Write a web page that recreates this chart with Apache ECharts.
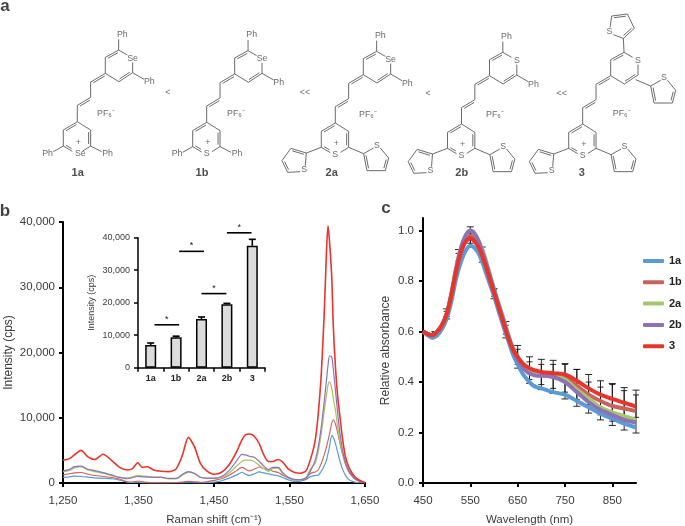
<!DOCTYPE html>
<html>
<head>
<meta charset="utf-8">
<style>html,body{margin:0;padding:0;background:#fff}#chart{width:685px;height:526px}</style>
<script src="https://cdn.jsdelivr.net/npm/echarts@6/dist/echarts.min.js"></script>
</head>
<body>
<div id="chart"></div>
<script>
// ---------- Panel b: Raman spectra ----------
const ramanShift = [1250,1258,1265,1274,1283,1292,1303,1315,1325,1335,1342,1349,1355,1362,1370,1380,1390,1400,1408,1416,1424,1432,1440,1450,1460,1470,1480,1487,1492,1497,1503,1510,1516,1522,1528,1535,1541,1548,1556,1565,1572,1578,1584,1588,1592,1596,1599,1601,1603,1606,1608,1611,1614,1617,1620,1624,1628,1633,1638,1644,1650];
const raman1a = [850,950,1050,1000,900,800,720,650,450,120,80,120,60,30,10,10,10,20,30,40,30,20,50,120,350,750,1250,1650,1350,1150,1400,1700,1550,1400,1250,1100,850,500,250,300,550,1000,1150,1200,1800,2600,3500,4500,5600,7300,7000,6000,4600,3300,2200,1200,600,250,100,40,20];
const raman1b = [1250,1400,1550,1600,1350,1150,1000,850,600,200,150,300,200,100,50,30,60,80,150,250,200,120,200,400,650,1200,1900,2400,2100,1850,2100,2450,2200,2000,1800,1600,1200,800,450,500,700,1500,1700,2000,3000,4300,5500,6500,7500,9200,9700,9000,7600,6000,4500,2900,1800,1000,500,200,50];
const raman2a = [1700,1900,2300,2500,2000,1750,1500,1150,850,800,950,1150,1100,1000,900,850,650,650,1200,1650,1450,900,750,700,850,1500,2600,3300,3500,3500,3300,2700,2200,1800,2200,2300,1400,800,500,550,800,2200,3000,4800,7500,11000,13500,15000,15500,14500,13000,11000,8500,6300,4700,3200,2100,1300,700,300,50];
const raman2b = [1850,2050,2500,2600,2100,1900,1600,1200,850,650,800,1000,950,900,850,900,700,700,1300,1750,1500,850,750,750,1000,1900,3400,4400,4300,4100,3950,3300,2600,2050,2400,2400,1600,900,550,500,800,1900,3500,5500,8500,12500,15800,18000,19500,19300,17500,14000,10500,7500,5200,3200,2000,1100,600,250,50];
const raman3  = [3500,3700,4300,5000,4000,3600,4400,3400,2400,2000,2200,3100,2400,2500,2000,1800,1750,2200,4200,7000,5600,3000,1900,1350,1650,2800,4800,6600,7400,7500,7200,6000,4300,3300,3300,3600,3200,2200,1650,1500,1900,3700,6500,10500,16500,26000,35500,39400,37000,31500,24000,17500,13000,10000,7000,4100,2600,1500,800,350,50];
const ramanTicks = [1250,1350,1450,1550,1650];

// ---------- Panel b inset: peak intensity bars ----------
const compoundNames = ['1a','1b','2a','2b','3'];
const peakIntensity = [7000,9400,15000,19500,37500];
const peakUpper = [7600,9700,15600,19800,39500];
// [from, to, level] in category-band units on the hidden inset scale
const significance = [[0.65,1.62,13200],[1.62,2.6,35800],[2.5,3.48,22800],[3.5,4.47,41500]];

// ---------- Panel c: absorbance ----------
const wavelength = [450,460,470,480,490,500,510,520,530,540,550,560,570,580,590,600,610,620,630,640,650,660,670,680,690,700,725,750,775,800,825,850,875,900];
const abs1a = [.60,.585,.575,.585,.61,.65,.72,.81,.875,.92,.94,.93,.90,.85,.795,.74,.68,.62,.565,.51,.47,.435,.41,.39,.38,.375,.36,.35,.325,.30,.275,.255,.235,.22];
const abs1b = [.60,.59,.585,.60,.625,.665,.745,.84,.915,.96,.98,.965,.93,.885,.825,.76,.70,.64,.58,.53,.495,.47,.455,.445,.44,.435,.425,.415,.385,.35,.325,.305,.295,.285];
const abs2a = [.60,.59,.585,.60,.625,.67,.75,.85,.93,.98,1.0,.985,.95,.90,.835,.77,.71,.65,.59,.535,.495,.465,.445,.435,.43,.43,.425,.41,.37,.335,.30,.28,.265,.25];
const abs2b = [.60,.59,.585,.60,.625,.67,.75,.85,.93,.98,1.0,.985,.945,.89,.83,.765,.705,.645,.585,.53,.49,.46,.44,.43,.425,.425,.42,.40,.36,.32,.29,.27,.25,.24];
const abs3  = [.60,.59,.585,.60,.625,.67,.745,.84,.915,.955,.97,.955,.925,.875,.815,.755,.695,.635,.575,.53,.50,.475,.46,.45,.445,.44,.435,.43,.405,.375,.35,.333,.318,.303];
const errWavelength = [475,500,525,550,575,600,625,650,675,700,725,750,775,800,825,850,875,900];
const errOuterHigh = [.60,.69,.925,1.015,.935,.77,.64,.545,.50,.49,.486,.473,.45,.43,.405,.394,.378,.368];
const errOuterLow  = [.58,.65,.865,.935,.875,.73,.575,.455,.395,.37,.355,.333,.304,.277,.25,.228,.21,.198];
const errInnerHigh = [.595,.68,.91,.99,.92,.765,.625,.53,.48,.47,.47,.47,.45,.40,.38,.39,.366,.349];
const errInnerLow  = [.585,.66,.88,.95,.89,.74,.59,.47,.41,.39,.375,.36,.33,.31,.27,.245,.235,.26];
const wavelengthTicks = [450,550,650,750,850];
const absorbanceTicks = [0,0.2,0.4,0.6,0.8,1.0];

// ---------- Panel a: structures, in drawing units relative to each molecule's anchor ----------
const coreSingle = [[0,0,40,25],[40,73,16,88],[-42,25,-42,73],[0,0,0,-49],[40,-73,40,-119],[84,-145,84,-193],[124,-215,150,-200],[166,-178,166,-147],[125,-120,84,-145]];
const coreDouble = [[40,25,40,73,0,48],[-42,73,-15,89,0,48],[0,0,-42,25,0,48],[0,-49,40,-73,40,-45],[40,-119,84,-145,84,-115],[84,-193,124,-215,125,-168],[166,-147,125,-120,125,-168]];
const phArmsBottom = [[-42,73,-72,90],[40,73,73,90]];
const phArmsTop = [[124,-215,124,-247],[166,-147,200,-127]];
const thienylLeftSingle = [[-42,73,-87,90],[-133,76,-160,113],[-143,148,-105,146],[-90,128,-87,90]];
const thienylLeftDouble = [[-87,90,-133,76,-120,115],[-160,113,-143,148,-120,115]];
const thienylRightSingle = [[40,73,85,92],[85,92,115,75],[135,75,160,105],[150,143,95,143]];
const thienylRightDouble = [[160,105,150,143,122,110],[95,143,85,92,122,110]];
const thienylShiftUp = [119,-206];
const thienylTopSingle = [[124,-215,122,-257],[155,-287,134,-330],[87,-324,82,-290],[92,-268,122,-257]];
const thienylTopDouble = [[122,-257,155,-287,115,-295],[134,-330,87,-324,115,-295]];
const moleculeAnchors = [[77.3,121.7],[206.7,122.3],[335.3,123],[461.5,124],[582.7,124]];
const bottomHetero = ['Se','S','S','S','S'];
const topHetero = ['Se','Se','Se','S','S'];
const bottomSubstituent = ['Ph','Ph','Th','Th','Th'];
const topSubstituent = ['Ph','Ph','Ph','Ph','Th'];
const compoundLabelAt = [[77.7,172.5],[202,172.5],[331.7,172.5],[461.7,172.5],[581.7,173]];
const saltLabelAt = [[106,113.5],[236,114],[368,114.5],[495,114.5],[621.7,114]];
const orderSigns = ['<','<<','<','<<'];
const orderSignAt = [[167.7,93],[305,93],[428,93.5],[561.7,93.5]];
const panelLetters = ['a','b','c'];
const panelLetterAt = [[5,6],[5,211],[386,208]];

const UNIT = 1/3;
const FONT = '"Liberation Sans", Arial, sans-serif';
const TEXT = '#3a3a3a';
const COLORS = {a1:'#5b9bd5', b1:'#c9625c', a2:'#a8c66c', b2:'#8d72b8', t3:'#e8352b'};

function buildStructures(){
  const segs = [], labels = [];
  moleculeAnchors.forEach((A, i) => {
    const addS = (b, s=[0,0]) => segs.push([A[0]+(b[0]+s[0])*UNIT, A[1]+(b[1]+s[1])*UNIT, A[0]+(b[2]+s[0])*UNIT, A[1]+(b[3]+s[1])*UNIT]);
    const addD = (b, s=[0,0]) => {
      addS(b, s);
      let dx=b[2]-b[0], dy=b[3]-b[1], L=Math.hypot(dx,dy), nx=-dy/L, ny=dx/L;
      const mx=(b[0]+b[2])/2, my=(b[1]+b[3])/2;
      if ((b[4]-mx)*nx+(b[5]-my)*ny<0){nx=-nx;ny=-ny;}
      const off=6, ux=dx/L*6, uy=dy/L*6;
      addS([b[0]+nx*off+ux,b[1]+ny*off+uy,b[2]+nx*off-ux,b[3]+ny*off-uy], s);
    };
    const lab = (t,x,y) => labels.push({value:[A[0]+x*UNIT, A[1]+y*UNIT], name:t});
    coreSingle.forEach(b=>addS(b));
    coreDouble.forEach(b=>addD(b));
    lab(bottomHetero[i], bottomHetero[i]==='Se'?9:0, 95);
    lab(topHetero[i], 166, -190);
    lab('+', 3, 62);
    if (bottomSubstituent[i]==='Ph'){
      phArmsBottom.forEach(b=>addS(b));
      lab('Ph',-89,95); lab('Ph',91,95);
    } else {
      thienylLeftSingle.forEach(b=>addS(b));
      thienylLeftDouble.forEach(b=>addD(b));
      thienylRightSingle.forEach(b=>addS(b));
      thienylRightDouble.forEach(b=>addD(b));
      lab('S',-93,140); lab('S',125,67);
    }
    if (topSubstituent[i]==='Ph'){
      phArmsTop.forEach(b=>addS(b));
      lab('Ph',135,-262); lab('Ph',216,-119);
    } else {
      thienylTopSingle.forEach(b=>addS(b));
      thienylTopDouble.forEach(b=>addD(b));
      thienylRightSingle.forEach(b=>addS(b,thienylShiftUp));
      thienylRightDouble.forEach(b=>addD(b,thienylShiftUp));
      lab('S',80,-277); lab('S',125+thienylShiftUp[0],67+thienylShiftUp[1]);
    }
  });
  saltLabelAt.forEach(p=>labels.push({value:p,name:'PF\u2086\u207B'}));
  orderSigns.forEach((t,i)=>labels.push({value:orderSignAt[i],name:t}));
  return {segs,labels};
}
const structures = buildStructures();
const zip = (xs, ys) => xs.map((x,i)=>[x,ys[i]]);
const commaNum = v => Number(v).toLocaleString('en-US');

function textScatter(data, size, weight, color){
  return {type:'scatter', xAxisIndex:0, yAxisIndex:0, data, symbolSize:0, silent:true, z:20,
    label:{show:true, position:'inside', formatter:p=>p.name, fontFamily:FONT, fontSize:size, fontWeight:weight, color}};
}
function errRender(capHalf, width){
  return function(params, api){
    const x=api.value(0), lo=api.coord([x,api.value(1)]), hi=api.coord([x,api.value(2)]);
    const style={stroke:'#111', lineWidth:width};
    const L=(a,b,c,d)=>({type:'line',shape:{x1:a,y1:b,x2:c,y2:d},style});
    return {type:'group',children:[L(lo[0],lo[1],hi[0],hi[1]),L(hi[0]-capHalf,hi[1],hi[0]+capHalf,hi[1]),L(lo[0]-capHalf,lo[1],lo[0]+capHalf,lo[1])]};
  };
}
function axisBase(size, lw){
  return {axisLine:{show:true,onZero:false,lineStyle:{color:'#000',width:lw}},
    axisTick:{show:true,length:4,lineStyle:{color:'#000',width:lw}},
    splitLine:{show:false},
    axisLabel:{fontFamily:FONT,fontSize:size,color:TEXT},
    nameTextStyle:{fontFamily:FONT,fontSize:size,color:TEXT}};
}
const ramanLine = (name,vals,color,w,z)=>({type:'line',name,xAxisIndex:1,yAxisIndex:1,data:zip(ramanShift,vals),showSymbol:false,smooth:0.25,
  lineStyle:{color,width:w},itemStyle:{color},z});
const absLine = (name,vals,color,z)=>({type:'line',name,xAxisIndex:4,yAxisIndex:3,data:zip(wavelength,vals),showSymbol:false,smooth:0.3,
  lineStyle:{color,width:4},itemStyle:{color},z,emphasis:{disabled:true}});

const b1 = axisBase(11.5,2), ins = axisBase(9,1.5), c1 = axisBase(11.5,2);

const option = {
  animation:false, backgroundColor:'#fff',
  legend:{data:compoundNames, orient:'vertical', left:643, top:255, padding:0, itemWidth:21, itemHeight:4, itemGap:9.3, icon:'roundRect',
    selectedMode:false, textStyle:{fontFamily:FONT,fontSize:11,fontWeight:'bold',color:'#222',lineHeight:12}},
  grid:[
    {left:0,right:0,top:0,bottom:0,outerBoundsMode:'none'},
    {left:63,right:320,top:222,bottom:43,outerBoundsMode:'none'},
    {left:138,right:420,top:237.7,bottom:158.3,outerBoundsMode:'none'},
    {left:423,right:49,top:218,bottom:43,outerBoundsMode:'none'}
  ],
  xAxis:[
    {gridIndex:0,type:'value',min:0,max:685,show:false},
    Object.assign({},b1,{gridIndex:1,type:'value',min:1250,max:1650,
      axisLabel:Object.assign({},b1.axisLabel,{customValues:ramanTicks,formatter:commaNum,margin:12}),
      axisTick:Object.assign({},b1.axisTick,{customValues:ramanTicks}),
      name:'Raman shift (cm\u207B\u00B9)',nameLocation:'middle',nameGap:31}),
    Object.assign({},ins,{gridIndex:2,type:'category',data:compoundNames,
      axisLabel:Object.assign({},ins.axisLabel,{fontWeight:'bold',margin:6,color:'#222',interval:0})}),
    {gridIndex:2,type:'value',min:0,max:5,show:false},
    Object.assign({},c1,{gridIndex:3,type:'value',min:450,max:900,
      axisLabel:Object.assign({},c1.axisLabel,{customValues:wavelengthTicks,margin:12}),
      axisTick:Object.assign({},c1.axisTick,{customValues:wavelengthTicks}),
      name:'Wavelength (nm)',nameLocation:'middle',nameGap:31})
  ],
  yAxis:[
    {gridIndex:0,type:'value',min:0,max:526,inverse:true,show:false},
    Object.assign({},b1,{gridIndex:1,type:'value',min:0,max:40000,interval:10000,
      axisLabel:Object.assign({},b1.axisLabel,{formatter:commaNum,margin:8}),
      name:'Intensity (cps)',nameLocation:'middle',nameGap:48,nameTextStyle:{fontFamily:FONT,fontSize:12,color:TEXT}}),
    Object.assign({},ins,{gridIndex:2,type:'value',min:0,max:40000,interval:10000,
      axisLabel:Object.assign({},ins.axisLabel,{formatter:commaNum,margin:8}),
      name:'Intensity (cps)',nameLocation:'middle',nameGap:42}),
    Object.assign({},c1,{gridIndex:3,type:'value',min:0,max:1.05,
      axisLabel:Object.assign({},c1.axisLabel,{customValues:absorbanceTicks,formatter:v=>Number(v).toFixed(1),margin:9}),
      axisTick:Object.assign({},c1.axisTick,{customValues:absorbanceTicks}),
      name:'Relative absorbance',nameLocation:'middle',nameGap:31,nameTextStyle:{fontFamily:FONT,fontSize:12,color:TEXT}})
  ],
  series:[
    {type:'custom',xAxisIndex:0,yAxisIndex:0,data:structures.segs,silent:true,z:5,
      encode:{x:[0,2],y:[1,3]},
      renderItem:(p,api)=>{
        const a=api.coord([api.value(0),api.value(1)]),b=api.coord([api.value(2),api.value(3)]);
        return {type:'line',shape:{x1:a[0],y1:a[1],x2:b[0],y2:b[1]},style:{stroke:'#5a5a5a',lineWidth:0.9}};
      }},
    textScatter(structures.labels,8.8,'normal','#444'),
    textScatter(compoundNames.map((n,i)=>({value:compoundLabelAt[i],name:n})),11,'bold','#222'),
    textScatter(panelLetters.map((n,i)=>({value:panelLetterAt[i],name:n})),17,'bold','#111'),

    ramanLine('Raman 1a',raman1a,COLORS.a1,1.2,2),
    ramanLine('Raman 1b',raman1b,COLORS.b1,1.1,3),
    ramanLine('Raman 2a',raman2a,COLORS.a2,1.3,4),
    ramanLine('Raman 2b',raman2b,COLORS.b2,1.2,5),
    ramanLine('Raman 3',raman3,COLORS.t3,1.6,6),

    {type:'bar',name:'Peak',xAxisIndex:2,yAxisIndex:2,data:peakIntensity,barWidth:11,z:7,
      itemStyle:{color:'#dcdcdc',borderColor:'#000',borderWidth:1.5}},
    {type:'custom',xAxisIndex:2,yAxisIndex:2,data:peakUpper.map((u,i)=>[i,peakIntensity[i],u]),z:6,silent:true,
      encode:{x:0,y:[1,2]},
      renderItem:(p,api)=>{
        const lo=api.coord([api.value(0),api.value(1)]),hi=api.coord([api.value(0),api.value(2)]);
        const style={stroke:'#000',lineWidth:1.6};
        return {type:'group',children:[
          {type:'line',shape:{x1:lo[0],y1:lo[1],x2:hi[0],y2:hi[1]},style},
          {type:'line',shape:{x1:hi[0]-3.5,y1:hi[1],x2:hi[0]+3.5,y2:hi[1]},style}]};
      }},
    {type:'custom',xAxisIndex:3,yAxisIndex:2,data:significance,z:8,silent:true,clip:false,
      encode:{x:[0,1],y:2},
      renderItem:(p,api)=>{
        const a=api.coord([api.value(0),api.value(2)]),b=api.coord([api.value(1),api.value(2)]);
        return {type:'group',children:[
          {type:'line',shape:{x1:a[0],y1:a[1],x2:b[0],y2:b[1]},style:{stroke:'#000',lineWidth:1.6}},
          {type:'text',style:{text:'*',x:(a[0]+b[0])/2,y:a[1]-1,fill:'#222',fontSize:9,fontFamily:FONT,align:'center',verticalAlign:'bottom'}}]};
      }},

    {type:'custom',xAxisIndex:4,yAxisIndex:3,data:errWavelength.map((x,i)=>[x,errOuterLow[i],errOuterHigh[i]]),z:2,silent:true,encode:{x:0,y:[1,2]},renderItem:errRender(3.5,0.9)},
    {type:'custom',xAxisIndex:4,yAxisIndex:3,data:errWavelength.map((x,i)=>[x,errInnerLow[i],errInnerHigh[i]]),z:2,silent:true,encode:{x:0,y:[1,2]},renderItem:errRender(3,0.9)},
    absLine('1a',abs1a,COLORS.a1,3),
    absLine('1b',abs1b,COLORS.b1,4),
    absLine('2a',abs2a,COLORS.a2,5),
    absLine('2b',abs2b,COLORS.b2,6),
    absLine('3',abs3,COLORS.t3,7)
  ]
};
const chart = echarts.init(document.getElementById('chart'),null,{renderer:'canvas'});
chart.setOption(option);
</script>
</body>
</html>
